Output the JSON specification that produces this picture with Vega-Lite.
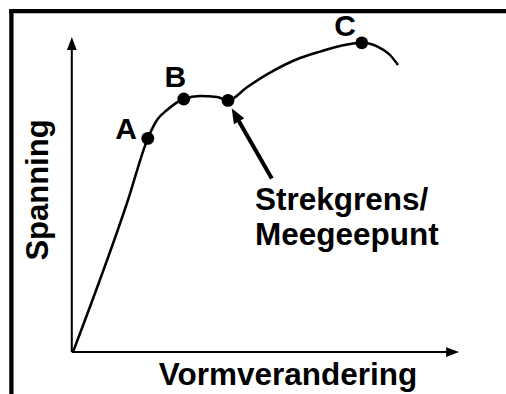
{
  "$schema": "https://vega.github.io/schema/vega-lite/v6.json",
  "width": 506,
  "height": 394,
  "padding": 0,
  "autosize": {"type": "none"},
  "background": "white",
  "config": {
    "view": {"stroke": null},
    "text": {"font": "Liberation Sans", "fontWeight": "bold", "color": "black"}
  },
  "datasets": {
    "frame": [
      {"x": -15.4, "y": -20, "x2": -15.4, "y2": 85.2},
      {"x": -15.4, "y": 85.2, "x2": 130, "y2": 85.2}
    ],
    "axes": [
      {"x": -0.3, "y": 0, "x2": -0.3, "y2": 76},
      {"x": -0.3, "y": 0, "x2": 94, "y2": 0}
    ],
    "yhead": [{"x": -0.3, "y": 77.1}],
    "xhead": [{"x": 94.9, "y": 0}],
    "curve": [
      {"x": 0, "y": 0},
      {"x": 13.75, "y": 38},
      {"x": 18.7, "y": 53.4},
      {"x": 21, "y": 58},
      {"x": 23.5, "y": 60.5},
      {"x": 27.7, "y": 63.25},
      {"x": 31.75, "y": 64},
      {"x": 36, "y": 63.75},
      {"x": 38.75, "y": 62.9},
      {"x": 43.5, "y": 66.2},
      {"x": 48.5, "y": 69.4},
      {"x": 56.75, "y": 73.5},
      {"x": 61.75, "y": 75.1},
      {"x": 66.75, "y": 76.5},
      {"x": 72.2, "y": 77.3},
      {"x": 76.25, "y": 76.3},
      {"x": 79.25, "y": 74.25},
      {"x": 81.25, "y": 71.75}
    ],
    "dots": [
      {"name": "A", "x": 18.7, "y": 53.4},
      {"name": "B", "x": 27.7, "y": 63.25},
      {"name": "Strekgrens", "x": 38.75, "y": 62.9},
      {"name": "C", "x": 72.2, "y": 77.3}
    ],
    "pointer": [{"x": 49.7, "y": 43.4, "x2": 40.8, "y2": 58.9}],
    "pointerhead": [{"x": 40.6, "y": 59.3}],
    "letters": [
      {"label": "A", "x": 13.25, "y": 53.2},
      {"label": "B", "x": 25.6, "y": 66.25},
      {"label": "C", "x": 68, "y": 79}
    ],
    "note": [
      {"label": "Strekgrens/", "x": 45.5, "y": 35.5},
      {"label": "Meegeepunt", "x": 45.5, "y": 26.75}
    ],
    "xtitle": [{"label": "Vormverandering", "x": 53.75, "y": -8.25}],
    "ytitle": [{"label": "Spanning", "x": -6.2, "y": 40.5}]
  },
  "encoding": {
    "x": {"field": "x", "type": "quantitative", "scale": {"domain": [-18.25, 108.25], "nice": false, "zero": false}, "axis": null},
    "y": {"field": "y", "type": "quantitative", "scale": {"domain": [-10.5, 88], "nice": false, "zero": false}, "axis": null}
  },
  "layer": [
    {
      "data": {"name": "frame"},
      "mark": {"type": "rule", "color": "black", "strokeWidth": 4.3, "strokeCap": "square"},
      "encoding": {"x2": {"field": "x2"}, "y2": {"field": "y2"}}
    },
    {
      "data": {"name": "axes"},
      "mark": {"type": "rule", "color": "black", "strokeWidth": 2},
      "encoding": {"x2": {"field": "x2"}, "y2": {"field": "y2"}}
    },
    {
      "data": {"name": "yhead"},
      "mark": {"type": "point", "filled": true, "color": "black", "opacity": 1, "shape": "M0,-1L0.75,1L-0.75,1Z", "size": 169}
    },
    {
      "data": {"name": "xhead"},
      "mark": {"type": "point", "filled": true, "color": "black", "opacity": 1, "shape": "M1,0L-1,-0.75L-1,0.75Z", "size": 169}
    },
    {
      "data": {"name": "curve"},
      "mark": {"type": "line", "color": "black", "strokeWidth": 2.5, "interpolate": "monotone"}
    },
    {
      "data": {"name": "dots"},
      "mark": {"type": "point", "filled": true, "color": "black", "opacity": 1, "size": 165}
    },
    {
      "data": {"name": "pointer"},
      "mark": {"type": "rule", "color": "black", "strokeWidth": 4},
      "encoding": {"x2": {"field": "x2"}, "y2": {"field": "y2"}}
    },
    {
      "data": {"name": "pointerhead"},
      "mark": {"type": "point", "filled": true, "color": "black", "opacity": 1, "shape": "M0,-1L0.8,1L-0.8,1Z", "size": 225, "angle": 330.3}
    },
    {
      "data": {"name": "letters"},
      "mark": {"type": "text", "fontSize": 30, "align": "center", "baseline": "alphabetic"},
      "encoding": {"text": {"field": "label"}}
    },
    {
      "data": {"name": "note"},
      "mark": {"type": "text", "fontSize": 31.5, "align": "left", "baseline": "alphabetic"},
      "encoding": {"text": {"field": "label"}}
    },
    {
      "data": {"name": "xtitle"},
      "mark": {"type": "text", "fontSize": 31.5, "align": "center", "baseline": "alphabetic"},
      "encoding": {"text": {"field": "label"}}
    },
    {
      "data": {"name": "ytitle"},
      "mark": {"type": "text", "fontSize": 31, "align": "center", "baseline": "alphabetic", "angle": 270},
      "encoding": {"text": {"field": "label"}}
    }
  ]
}
